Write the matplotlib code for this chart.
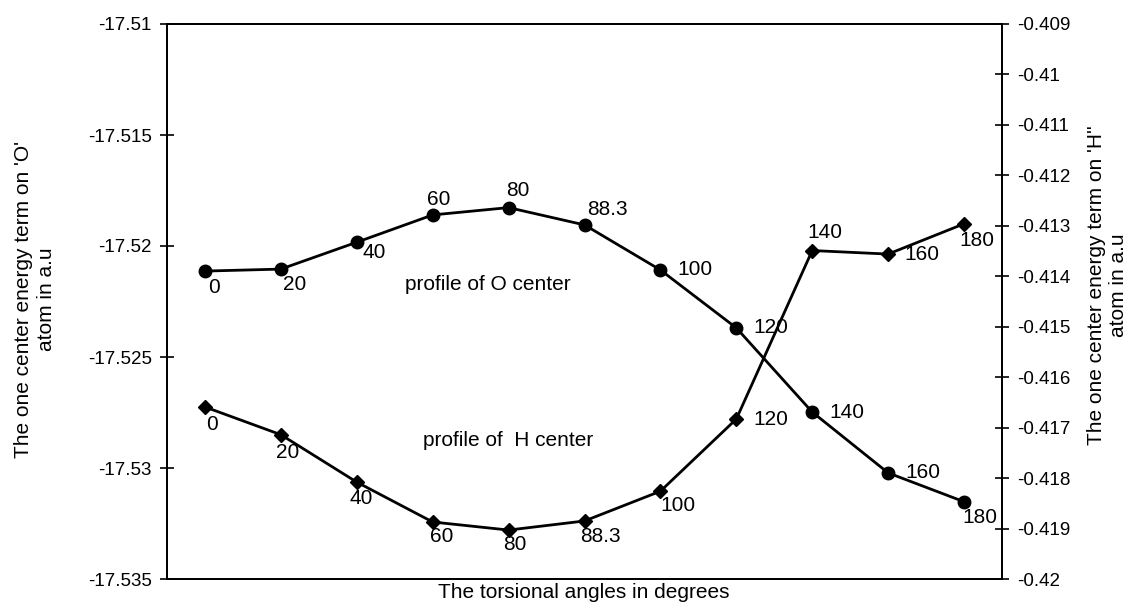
import matplotlib
matplotlib.use("Agg")
import matplotlib.pyplot as plt

plt.rcParams["font.family"] = ["Liberation Sans", "DejaVu Sans"]

# -----------------------------
# Data
# -----------------------------
angles = ["0", "20", "40", "60", "80", "88.3", "100", "120", "140", "160", "180"]

o_center = [-17.52113, -17.52104, -17.51983, -17.51860, -17.51827, -17.51905,
            -17.52108, -17.52369, -17.52748, -17.53022, -17.53152]

h_center = [-0.41659, -0.41714, -0.41808, -0.41887, -0.41903, -0.41885,
            -0.41826, -0.41683, -0.41349, -0.41356, -0.41296]

left_ticks = [-17.535, -17.53, -17.525, -17.52, -17.515, -17.51]
left_tick_labels = ["-17.535", "-17.53", "-17.525", "-17.52", "-17.515", "-17.51"]

right_ticks = [-0.42, -0.419, -0.418, -0.417, -0.416, -0.415, -0.414,
               -0.413, -0.412, -0.411, -0.41, -0.409]
right_tick_labels = ["-0.42", "-0.419", "-0.418", "-0.417", "-0.416", "-0.415",
                     "-0.414", "-0.413", "-0.412", "-0.411", "-0.41", "-0.409"]

# label offsets in pixels (dx, dy) for each point label
o_offsets = [(9, -16), (14, -15), (17, -10), (6, 15), (9, 17), (23, 15),
             (35, 0), (34, 0), (35, 0), (35, 0), (16, -16)]
h_offsets = [(7, -18), (7, -18), (4, -16), (9, -15), (6, -14), (16, -16),
             (18, -14), (34, 0), (13, 18), (34, 0), (13, -17)]

# -----------------------------
# Figure
# -----------------------------
fig = plt.figure(figsize=(11.33, 6.03), dpi=100)
ax = fig.add_axes([167 / 1133, 24 / 603, 835 / 1133, 555 / 603])
ax2 = ax.twinx()

x = list(range(len(angles)))

ax.plot(x, o_center, color="black", lw=2, marker="o", markersize=9)
ax2.plot(x, h_center, color="black", lw=2, marker="D", markersize=7.5)

for i, lab in enumerate(angles):
    ax.annotate(lab, (x[i], o_center[i]), xytext=o_offsets[i],
                textcoords="offset pixels", ha="center", va="center", fontsize=15)
    ax2.annotate(lab, (x[i], h_center[i]), xytext=h_offsets[i],
                 textcoords="offset pixels", ha="center", va="center", fontsize=15)

ax.set_xlim(-0.5, len(angles) - 0.5)
ax.set_xticks([])
ax.set_ylim(-17.535, -17.51)
ax.set_yticks(left_ticks)
ax.set_yticklabels(left_tick_labels)
ax2.set_ylim(-0.42, -0.409)
ax2.set_yticks(right_ticks)
ax2.set_yticklabels(right_tick_labels)

for a in (ax, ax2):
    a.tick_params(axis="y", direction="inout", length=10, width=1.2,
                  labelsize=13.5, pad=6)
    for s in a.spines.values():
        s.set_linewidth(1.3)

ax.text(0.384, 0.530, "profile of O center", transform=ax.transAxes,
        ha="center", va="center", fontsize=15)
ax.text(0.408, 0.249, "profile of  H center", transform=ax.transAxes,
        ha="center", va="center", fontsize=15)

fig.text(584 / 1133, 1 - 593 / 603, "The torsional angles in degrees",
         ha="center", va="center", fontsize=15)
fig.text(35 / 1133, 1 - 299 / 603,
         "The one center energy term on 'O'\natom in a.u",
         rotation=90, ha="center", va="center", fontsize=15,
         multialignment="center")
fig.text(1108 / 1133, 1 - 285 / 603,
         "The one center energy term on 'H''\natom in a.u",
         rotation=90, ha="center", va="center", fontsize=15,
         multialignment="center")

plt.savefig("out.png", dpi=100)
